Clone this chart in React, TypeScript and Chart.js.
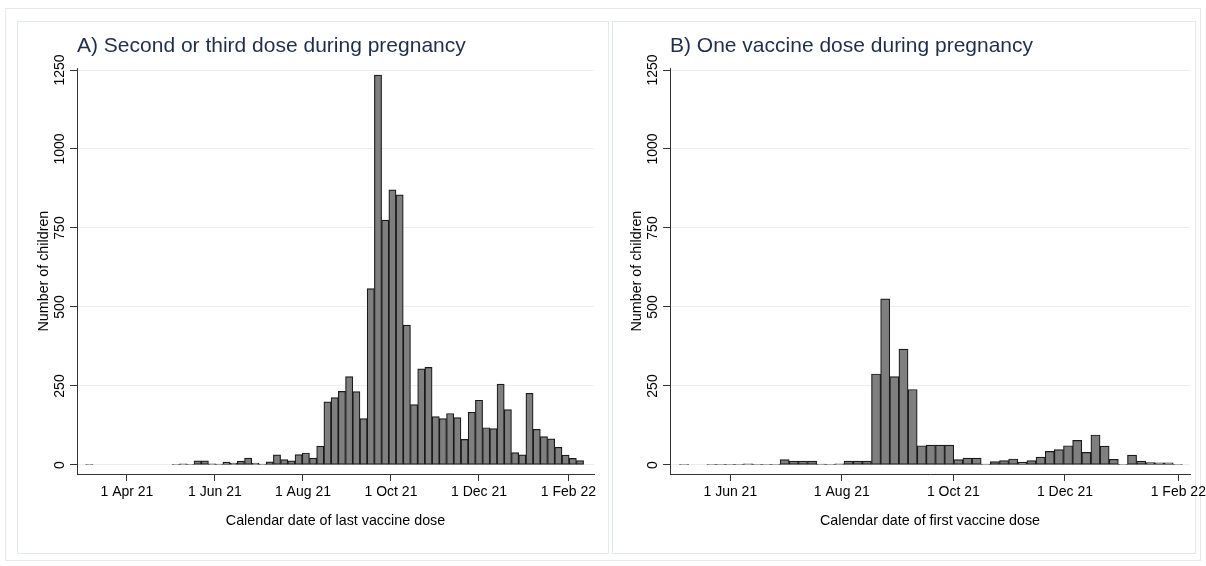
import React, { useEffect, useRef } from 'react';
import { Chart, registerables } from 'chart.js';

Chart.register(...registerables);

// Day numbers are days since 1 Jan 2021; each bin spans 5 days.
const binWidthDays = 5;

// Panel A: second or third dose during pregnancy (date of last dose)
const binStartA = 61.5;
const countsA: (number | null)[] = [
  1, null, null, null, null, null, null, null, null, null, null, null,
  1, 4, 1, 13, 13, 4, 3, 9, 6, 12, 22, 6, 3, 10, 32, 17, 13, 33, 38, 22, 60,
  200, 213, 233, 280, 232, 147, 558, 1234, 775, 871, 855, 443, 191, 304, 309,
  153, 147, 163, 150, 81, 167, 205, 118, 115, 256, 175, 39, 32, 227, 113, 90,
  83, 56, 31, 21, 14,
];

// Panel B: one vaccine dose during pregnancy (date of first dose)
const binStartB = 123.2;
const countsB: (number | null)[] = [
  1, null, null, 1, 1, 1, 2, 4, 1, 1, 2, 17, 12, 12, 12, 3, 1, 4, 12, 12, 12,
  288, 526, 280, 367, 239, 61, 63, 63, 63, 17, 22, 22, 3, 11, 14, 19, 9, 14,
  25, 43, 49, 61, 78, 40, 95, 60, 18, 1, 31, 12, 8, 7, 7, 1,
];

const tickDaysA = [90, 151, 212, 273, 334, 396];
const tickLabelsA = ['1 Apr 21', '1 Jun 21', '1 Aug 21', '1 Oct 21', '1 Dec 21', '1 Feb 22'];
const tickDaysB = [151, 212, 273, 334, 396];
const tickLabelsB = ['1 Jun 21', '1 Aug 21', '1 Oct 21', '1 Dec 21', '1 Feb 22'];
const yTicks = [0, 250, 500, 750, 1000, 1250];
const yTickLabels = ['0', '250', '500', '750', '1000', '1250'];

const FONT = "'Liberation Sans', Arial, Helvetica, sans-serif";

interface PanelSpec {
  title: string;
  xTitle: string;
  counts: (number | null)[];
  start: number;
  xMin: number;
  xMax: number;
  tickDays: number[];
  tickLabels: string[];
}

const panelA: PanelSpec = {
  title: 'A) Second or third dose during pregnancy',
  xTitle: 'Calendar date of last vaccine dose',
  counts: countsA,
  start: binStartA,
  xMin: 55.4,
  xMax: 413.7,
  tickDays: tickDaysA,
  tickLabels: tickLabelsA,
};

const panelB: PanelSpec = {
  title: 'B) One vaccine dose during pregnancy',
  xTitle: 'Calendar date of first vaccine dose',
  counts: countsB,
  start: binStartB,
  xMin: 118.0,
  xMax: 402.4,
  tickDays: tickDaysB,
  tickLabels: tickLabelsB,
};

function buildChart(canvas: HTMLCanvasElement, p: PanelSpec) {
  const points = p.counts
    .map((c, i) => (c == null ? null : { x: p.start + (i + 0.5) * binWidthDays, y: c }))
    .filter((d) => d !== null) as { x: number; y: number }[];

  const tickFont = { family: FONT, size: 14 };
  const axisTitleFont = { family: FONT, size: 14.3 };

  return new Chart(canvas, {
    type: 'bar',
    data: {
      datasets: [
        {
          data: points,
          backgroundColor: '#7f7f7f',
          borderColor: '#1a1a1a',
          borderWidth: 1.2,
          borderSkipped: false,
          barPercentage: 1,
          categoryPercentage: 1,
        },
      ],
    },
    options: {
      animation: false,
      responsive: false,
      maintainAspectRatio: false,
      layout: { padding: { left: 16, right: 16, top: 23, bottom: 20 } },
      plugins: {
        legend: { display: false },
        tooltip: { enabled: false },
        title: {
          display: true,
          text: p.title,
          align: 'start',
          fullSize: false,
          color: '#1f2d50',
          font: { family: FONT, size: 21, weight: 'normal' },
          padding: { top: 11, bottom: 9 },
        },
      },
      scales: {
        x: {
          type: 'linear',
          offset: false,
          min: p.xMin,
          max: p.xMax,
          afterBuildTicks: (s: any) => {
            s.ticks = p.tickDays.map((v) => ({ value: v }));
          },
          afterFit: (s: any) => {
            s.height = 72;
            s.paddingLeft = 0;
            s.paddingRight = 0;
          },
          ticks: {
            autoSkip: false,
            maxRotation: 0,
            minRotation: 0,
            padding: 3,
            color: '#000',
            font: tickFont,
            callback: (_v: any, i: number) => p.tickLabels[i],
          },
          grid: {
            offset: false,
            drawOnChartArea: false,
            drawTicks: true,
            tickLength: 7,
            tickColor: '#333',
          },
          border: { display: true, color: '#333', width: 1 },
          title: {
            display: true,
            text: p.xTitle,
            color: '#000',
            font: axisTitleFont,
            padding: { top: 0, bottom: 16.5 },
          },
        },
        y: {
          type: 'linear',
          min: -28.5,
          max: 1255.7,
          afterBuildTicks: (s: any) => {
            s.ticks = yTicks.map((v) => ({ value: v }));
          },
          afterFit: (s: any) => {
            s.width = 61;
            s.paddingTop = 0;
            s.paddingBottom = 0;
          },
          ticks: {
            minRotation: 90,
            maxRotation: 90,
            crossAlign: 'center',
            padding: -5.5,
            color: '#000',
            font: tickFont,
            callback: (_v: any, i: number) => yTickLabels[i],
          },
          grid: {
            color: '#e7eff1',
            lineWidth: 1,
            drawTicks: true,
            tickLength: 7,
            tickColor: '#333',
          },
          border: { display: true, color: '#333', width: 1 },
          title: {
            display: true,
            text: 'Number of children',
            color: '#000',
            font: axisTitleFont,
            padding: { top: 19.4, bottom: 0 },
          },
        },
      },
    },
  } as any);
}

function Panel({ spec, left, width }: { spec: PanelSpec; left: number; width: number }) {
  const ref = useRef<HTMLCanvasElement | null>(null);
  useEffect(() => {
    if (!ref.current) return;
    const chart = buildChart(ref.current, spec);
    return () => chart.destroy();
  }, [spec]);
  return (
    <canvas
      ref={ref}
      width={width}
      height={566}
      style={{ position: 'absolute', left, top: 0, width, height: 566 }}
    />
  );
}

const frameColor = '#e3eaec';

export default function App() {
  return (
    <div
      style={{
        position: 'fixed',
        left: 0,
        top: 0,
        width: 1206,
        height: 566,
        background: '#fff',
        overflow: 'hidden',
      }}
    >
      <div style={{ position: 'absolute', left: 5, top: 8, width: 1194, height: 551, border: `1px solid ${frameColor}` }} />
      <div style={{ position: 'absolute', left: 17, top: 21, width: 590, height: 531, border: `1px solid ${frameColor}` }} />
      <div style={{ position: 'absolute', left: 612, top: 21, width: 582, height: 531, border: `1px solid ${frameColor}` }} />
      <Panel spec={panelA} left={0} width={610} />
      <Panel spec={panelB} left={593} width={613} />
    </div>
  );
}
